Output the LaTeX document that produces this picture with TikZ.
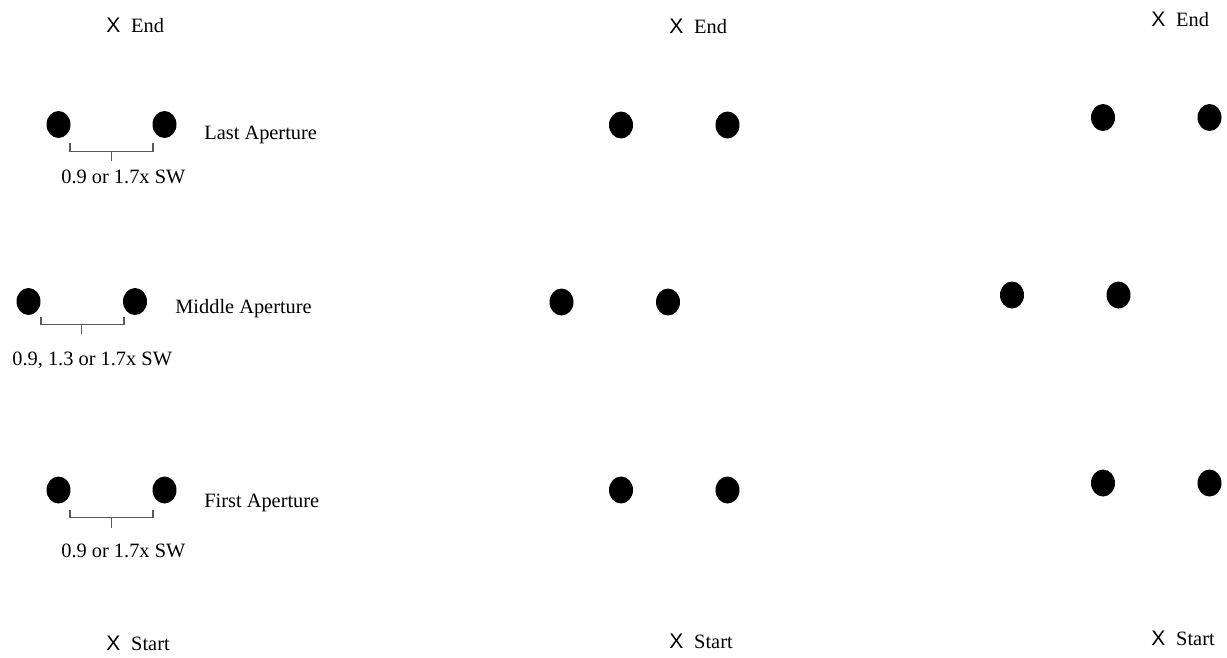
\documentclass[tikz,border=0pt]{standalone}
\usepackage{fontspec}
\setmainfont{Liberation Serif}
\newfontfamily\xfont{Liberation Sans}
\usetikzlibrary{positioning, shapes.geometric, calc}

\begin{document}
\begin{tikzpicture}[x=0.02cm,y=-0.02cm,
    hole/.style={ellipse,fill=black,inner sep=0pt,minimum width=0.48cm,minimum height=0.54cm},
    xsign/.style={font=\xfont\fontsize{12}{14}\selectfont,inner sep=0pt,anchor=base},
    tag/.style={font=\fontsize{11.6}{14}\selectfont,inner sep=0pt},
    gap/.style={draw=black!65,line width=0.7pt}]
  \useasboundingbox (0,0) rectangle (1227,657);
  % start and end marks of each run
  \foreach \x/\ye/\ys [count=\i] in {113.5/32/650, 676.5/33/648, 1158.5/26/645} {
    \node[xsign] (xe\i) at (\x,\ye) {X};
    \node[tag,base right=0.2cm of xe\i] (te\i) {End};
    \node[xsign] (xs\i) at (\x,\ys) {X};
    \node[tag,base right=0.2cm of xs\i] (ts\i) {Start};
  }
  % left run, with widths
  \node[hole] (l3a) at (58.5,124.5) {};
  \node[hole] (l3b) at (164.5,124.5) {};
  \node[tag,anchor=base west] (n3) at (204,139) {Last Aperture};
  \draw[gap] ($(l3a.south)+(11.5,5)$) -- ++(0,8) -| ($(l3b.south)+(-11.5,5)$);
  \draw[gap] ($(l3a.south)!0.5!(l3b.south)+(0,13)$) -- ++(0,10);
  \node[tag,anchor=base west] (w3) at (61,183) {0.9 or 1.7x SW};

  \node[hole] (l2a) at (28.5,301.5) {};
  \node[hole] (l2b) at (135,301.5) {};
  \node[tag,anchor=base west] (n2) at (175,313) {Middle Aperture};
  \draw[gap] ($(l2a.south)+(12.5,2)$) -- ++(0,7) -| ($(l2b.south)+(-11,2)$);
  \draw[gap] ($(l2a.south)!0.5!(l2b.south)+(0,9)$) -- ++(0,10);
  \node[tag,anchor=base west] (w2) at (12,365) {0.9, 1.3 or 1.7x SW};

  \node[hole] (l1a) at (58.5,490) {};
  \node[hole] (l1b) at (164.5,490) {};
  \node[tag,anchor=base west] (n1) at (204,507) {First Aperture};
  \draw[gap] ($(l1a.south)+(11.5,6)$) -- ++(0,8) -| ($(l1b.south)+(-11.5,6)$);
  \draw[gap] ($(l1a.south)!0.5!(l1b.south)+(0,14)$) -- ++(0,10);
  \node[tag,anchor=base west] (w1) at (61,557) {0.9 or 1.7x SW};

  % middle and right runs
  \foreach \x/\y [count=\i] in {621/125, 561.5/302, 621/490, 1103/117.5, 1012/295, 1103/483} {
    \node[hole] (p\i a) at (\x,\y) {};
    \node[hole] (p\i b) at ($(p\i a)+(106.5,0)$) {};
  }
\end{tikzpicture}
\end{document}
